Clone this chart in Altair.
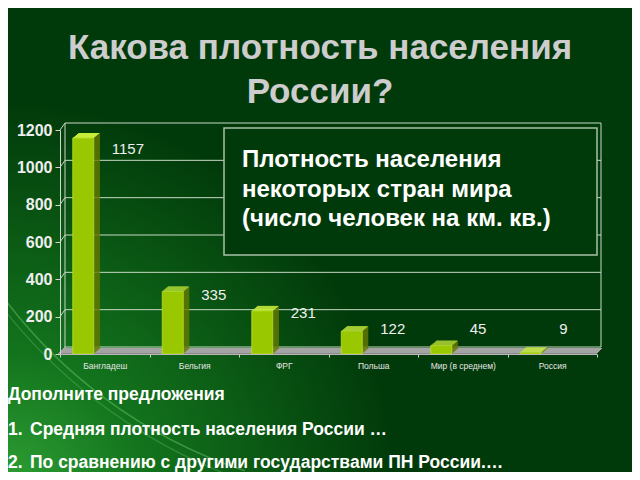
import altair as alt
import pandas as pd

categories = ["Бангладеш", "Бельгия", "ФРГ", "Польша", "Мир (в среднем)", "Россия"]
values = [1157, 335, 231, 122, 45, 9]
y_ticks = [0, 200, 400, 600, 800, 1000, 1200]

title_lines = ["Какова плотность населения", "России?"]
box_lines = ["Плотность населения", "некоторых стран мира", "(число человек на км. кв.)"]
bottom_lines = ["Дополните предложения",
                "Средняя плотность населения России …",
                "По сравнению с другими государствами ПН России.…"]

df = pd.DataFrame({"c": categories, "v": values, "z": [0] * len(values)})
ticks_df = pd.DataFrame({"t": y_ticks})
wall_df = pd.DataFrame({"lo": [min(y_ticks)], "hi": [max(y_ticks)]})
one = pd.DataFrame({"k": [0]})

W, H = 537, 224
FONT = "Liberation Sans"
BG = "#013a0a"

xs = alt.Scale(domain=categories, paddingInner=0, paddingOuter=0)
ys = alt.Scale(domain=[0, 1200], nice=False)

x_axis = alt.Axis(title=None, labelAngle=0, labelFontSize=8.5, labelFont=FONT,
                  labelColor="#e6e6e6", domainColor="#b8b8b8", tickColor="#d0d0d0",
                  tickSize=3, tickBand="extent", labelPadding=4, zindex=1)
y_axis = alt.Axis(title=None, values=y_ticks, format="d", grid=False, labelFont=FONT,
                  labelFontWeight="bold", labelFontSize=16, labelColor="#eeeeee",
                  domainColor="#d4d4d4", tickColor="#d4d4d4", tickSize=5,
                  labelPadding=3, zindex=1)

layers = []

# background gradient
layers.append(
    alt.Chart(one).mark_rect(
        color=alt.Gradient(
            gradient="radial",
            stops=[alt.GradientStop(offset=0, color="#2fa035"),
                   alt.GradientStop(offset=0.35, color="#13741d"),
                   alt.GradientStop(offset=1, color=BG)],
            x1=0.0, y1=0.9, r1=0.0, x2=0.0, y2=0.9, r2=0.62,
        )
    ).encode(x=alt.value(-52), x2=alt.value(572), y=alt.value(-122), y2=alt.value(342))
)

# faint light streaks in the background
for cx, cy, r, t1, t2, op in ((340, -130, 495, 3.46, 4.10, 0.35),
                              (360, -150, 530, 3.47, 4.05, 0.22)):
    layers.append(alt.Chart(one).mark_arc(
        radius=r, radius2=r + 1.5, theta=t1, theta2=t2, color="#8ae88a", opacity=op).encode(
        x=alt.value(cx), y=alt.value(cy)))

grid_col = "#c8d8c4"
tk = alt.Chart(ticks_df)
# back-wall gridlines
layers.append(tk.mark_rule(color=grid_col, strokeWidth=1, yOffset=-7).encode(
    y=alt.Y("t:Q", scale=ys, axis=y_axis), x=alt.value(5), x2=alt.value(541)))
# side-wall connectors
layers.append(tk.mark_rule(color=grid_col, strokeWidth=1, y2Offset=-7).encode(
    y=alt.Y("t:Q", scale=ys, axis=y_axis), y2=alt.Y2("t:Q"), x=alt.value(0), x2=alt.value(5)))
# back-wall verticals
for xv in (5, 541):
    layers.append(alt.Chart(wall_df).mark_rule(color=grid_col, strokeWidth=1, yOffset=-7, y2Offset=-7).encode(
        x=alt.value(xv), y=alt.Y("hi:Q", scale=ys, axis=y_axis), y2=alt.Y2("lo:Q")))

# text box
layers.append(alt.Chart(one).mark_rect(fill=BG, stroke="#a8c0a8", strokeWidth=1.5).encode(
    x=alt.value(164), x2=alt.value(537), y=alt.value(-2), y2=alt.value(125)))
for i, line in enumerate(box_lines):
    layers.append(alt.Chart(one).mark_text(
        text=line, align="left", baseline="middle", font=FONT, fontWeight="bold",
        fontSize=24, color="#ffffff").encode(x=alt.value(182), y=alt.value(30 + 29.5 * i)))

# floor slab
for i in range(6):
    layers.append(alt.Chart(one).mark_rect(color="#a4a4a4" if i > 0 else "#8a8a8a").encode(
        x=alt.value(-2 + i), x2=alt.value(537 + i), y=alt.value(224 - i - 1), y2=alt.value(224 - i)))

base = alt.Chart(df)
Xn = alt.X("c:N", scale=xs, sort=None, axis=x_axis)
Yn = alt.Y("v:Q", scale=ys, axis=y_axis)

# side faces
for j in range(6):
    dy = (j + 1) * 5 / 6
    layers.append(base.mark_bar(width=1, color="#667a00", xOffset=-10.5 + j,
                                yOffset=-dy, y2Offset=-dy).encode(
        x=Xn, y=Yn, y2=alt.Y2("z:Q")))
# top faces
for i in range(5):
    layers.append(base.mark_bar(width=21, color="#c6ec3a", xOffset=-21.5 + 1.2 * (i + 0.5),
                                yOffset=-(i + 1), y2Offset=-i).encode(
        x=Xn, y=Yn, y2=alt.Y2("v:Q")))
# front faces
layers.append(base.mark_bar(width=21, color="#99c800", xOffset=-21.5,
                            stroke="#b8e030", strokeWidth=0.8).encode(
    x=Xn, y=Yn, y2=alt.Y2("z:Q")))

# value labels
layers.append(base.transform_calculate(ly="max(datum.v * 0.95, 134)").mark_text(
    align="left", baseline="middle", dx=7, font=FONT, fontSize=15, color="#f0f0f0").encode(
    x=Xn, y=alt.Y("ly:Q", scale=ys, axis=y_axis), text="v:Q"))

# title
for i, line in enumerate(title_lines):
    layers.append(alt.Chart(one).mark_text(
        text=line, align="center", baseline="middle", font=FONT,
        fontWeight="bold", fontSize=35, color="#cdcdcd").encode(
        x=alt.value(260), y=alt.value(-82 + 44 * i)))

# bottom text
layers.append(alt.Chart(one).mark_text(
    text=bottom_lines[0], align="left", baseline="middle", font=FONT, fontWeight="bold",
    fontSize=17.5, color="#ffffff").encode(x=alt.value(-52), y=alt.value(265)))
for i, line in enumerate(bottom_lines[1:]):
    yy = 300 + 33 * i
    layers.append(alt.Chart(one).mark_text(
        text=f"{i + 1}.", align="left", baseline="middle", font=FONT, fontWeight="bold",
        fontSize=17.5, color="#ffffff").encode(x=alt.value(-52), y=alt.value(yy)))
    layers.append(alt.Chart(one).mark_text(
        text=line, align="left", baseline="middle", font=FONT, fontWeight="bold",
        fontSize=17.5, color="#ffffff").encode(x=alt.value(-30), y=alt.value(yy)))

chart = alt.layer(*layers).properties(
    width=W, height=H,
    autosize=alt.AutoSizeParams(type="none"),
    padding={"left": 52, "top": 122, "right": 35, "bottom": 118},
    background=BG,
).configure_view(stroke=None)

chart.save("out.html", embed_options={"renderer": "svg", "actions": False})
